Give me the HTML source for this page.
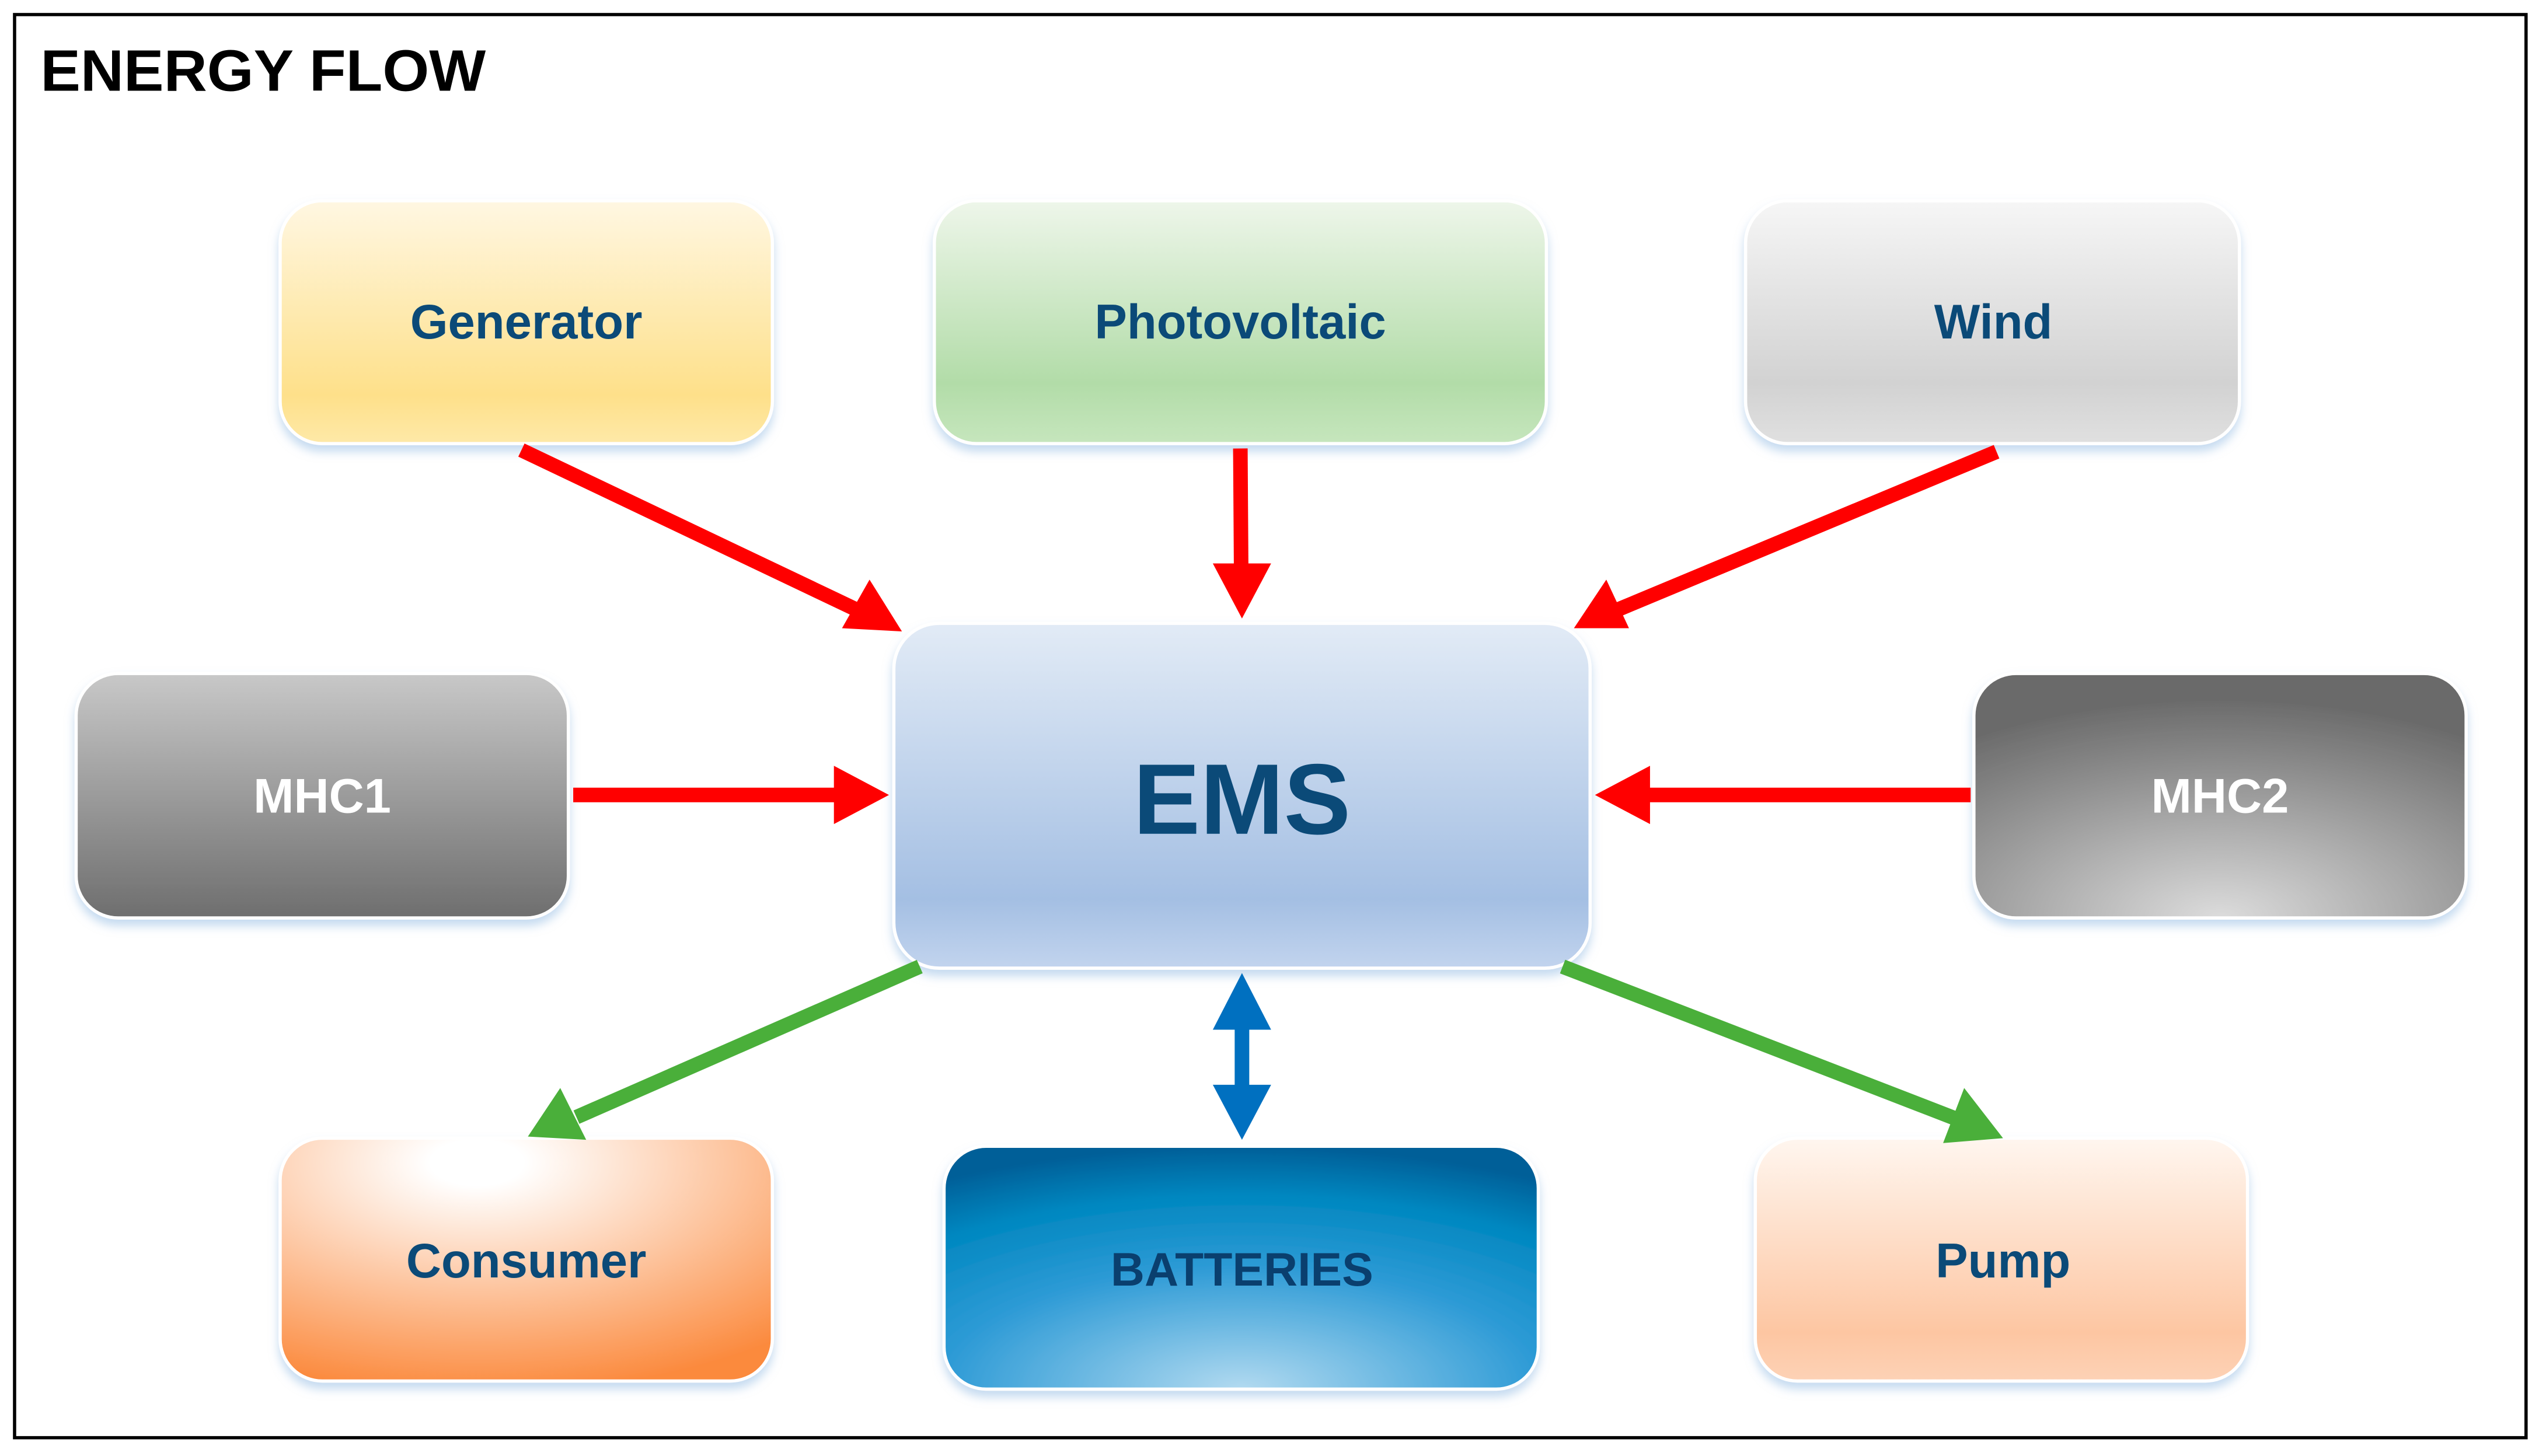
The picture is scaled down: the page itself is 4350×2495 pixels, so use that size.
<!DOCTYPE html>
<html><head><meta charset="utf-8"><style>
html,body{margin:0;padding:0;background:#fff;}
svg{display:block;}
text{font-family:"Liberation Sans",sans-serif;font-weight:bold;}
</style></head><body>
<svg width="4350" height="2495" viewBox="0 0 1568 899.3" preserveAspectRatio="none" xmlns="http://www.w3.org/2000/svg">
<defs>
<linearGradient id="gen" x1="0" y1="0" x2="0" y2="1"><stop offset="0" stop-color="#fff7e2"/><stop offset="0.8" stop-color="#fee08a"/><stop offset="1" stop-color="#fee9a8"/></linearGradient>
<linearGradient id="pv" x1="0" y1="0" x2="0" y2="1"><stop offset="0" stop-color="#eef6ea"/><stop offset="0.75" stop-color="#b2dca8"/><stop offset="1" stop-color="#c6e6bd"/></linearGradient>
<linearGradient id="wind" x1="0" y1="0" x2="0" y2="1"><stop offset="0" stop-color="#f6f6f6"/><stop offset="0.75" stop-color="#d2d2d2"/><stop offset="1" stop-color="#e0e0e0"/></linearGradient>
<linearGradient id="mhc1" x1="0" y1="0" x2="0" y2="1"><stop offset="0" stop-color="#c8c8c8"/><stop offset="1" stop-color="#6e6e6e"/></linearGradient>
<radialGradient id="mhc2" cx="0.5" cy="1" r="0.9"><stop offset="0" stop-color="#dcdcdc"/><stop offset="1" stop-color="#6a6a6a"/></radialGradient>
<linearGradient id="ems" x1="0" y1="0" x2="0" y2="1"><stop offset="0" stop-color="#e2ebf6"/><stop offset="0.8" stop-color="#a4bfe3"/><stop offset="1" stop-color="#c2d4ee"/></linearGradient>
<radialGradient id="cons" cx="0.4" cy="0.1" r="0.95"><stop offset="0.1" stop-color="#ffffff"/><stop offset="1" stop-color="#fb8a3e"/></radialGradient>
<radialGradient id="bat" cx="0.5" cy="1" r="1"><stop offset="0" stop-color="#b2daf0"/><stop offset="0.5" stop-color="#2e9bd6"/><stop offset="0.8" stop-color="#0087c0"/><stop offset="1" stop-color="#005f98"/></radialGradient>
<linearGradient id="pump" x1="0" y1="0" x2="0" y2="1"><stop offset="0" stop-color="#fff6ef"/><stop offset="0.8" stop-color="#fdc6a2"/><stop offset="1" stop-color="#fdd2b6"/></linearGradient>
<filter id="sh" x="-10%" y="-10%" width="120%" height="130%"><feDropShadow dx="0" dy="4" stdDeviation="3" flood-color="#9fc3e6" flood-opacity="0.6"/></filter>
</defs>
<rect x="9" y="9" width="1551" height="879" fill="#fff" stroke="#000" stroke-width="2"/>
<text x="25" y="56" font-size="36" fill="#000" textLength="275" lengthAdjust="spacingAndGlyphs">ENERGY FLOW</text>

<g filter="url(#sh)" stroke="#fff" stroke-width="2">
<rect x="173" y="124" width="304" height="150" rx="26" fill="url(#gen)"/>
<rect x="577" y="124" width="378" height="150" rx="26" fill="url(#pv)"/>
<rect x="1078" y="124" width="305" height="150" rx="26" fill="url(#wind)"/>
<rect x="47" y="416" width="304" height="151" rx="26" fill="url(#mhc1)"/>
<rect x="552" y="385" width="430" height="213" rx="28" fill="url(#ems)"/>
<rect x="1219" y="416" width="304" height="151" rx="26" fill="url(#mhc2)"/>
<rect x="173" y="703" width="304" height="150" rx="26" fill="url(#cons)"/>
<rect x="583" y="708" width="367" height="150" rx="26" fill="url(#bat)"/>
<rect x="1084" y="703" width="304" height="150" rx="26" fill="url(#pump)"/>
</g>

<g text-anchor="middle" font-size="30" fill="#0b4a78">
<text x="325" y="209">Generator</text>
<text x="766" y="209">Photovoltaic</text>
<text x="1231" y="209">Wind</text>
<text x="199" y="502" fill="#fff">MHC1</text>
<text x="1371" y="502" fill="#fff">MHC2</text>
<text x="767" y="515" font-size="62">EMS</text>
<text x="325" y="789">Consumer</text>
<text x="767" y="794" font-size="29" fill="#0a3f6e">BATTERIES</text>
<text x="1237" y="789">Pump</text>
</g>

<g stroke-width="9" fill="none">
<line x1="322" y1="278" x2="532" y2="378" stroke="#ff0000"/>
<line x1="766" y1="277" x2="766.5" y2="352" stroke="#ff0000"/>
<line x1="1233" y1="279" x2="998" y2="377" stroke="#ff0000"/>
<line x1="354" y1="491" x2="518" y2="491" stroke="#ff0000"/>
<line x1="1217" y1="491" x2="1018" y2="491" stroke="#ff0000"/>
<line x1="568" y1="597" x2="356" y2="690" stroke="#4aaf3a"/>
<line x1="965" y1="597" x2="1208" y2="691" stroke="#4aaf3a"/>
<line x1="767" y1="630" x2="767" y2="676" stroke="#0070c0"/>
</g>
<g fill="#ff0000">
<polygon points="557,390 520,388 537,358"/>
<polygon points="767,382 749,348 785,348"/>
<polygon points="972,388 992,358 1006,388"/>
<polygon points="549,491 515,473 515,509"/>
<polygon points="985,491 1019,473 1019,509"/>
</g>
<g fill="#4aaf3a">
<polygon points="326,702 346,672 362,704"/>
<polygon points="1237,703 1200,706 1213,672"/>
</g>
<g fill="#0070c0">
<polygon points="767,601 749,636 785,636"/>
<polygon points="767,704 749,670 785,670"/>
</g>
</svg>
</body></html>
